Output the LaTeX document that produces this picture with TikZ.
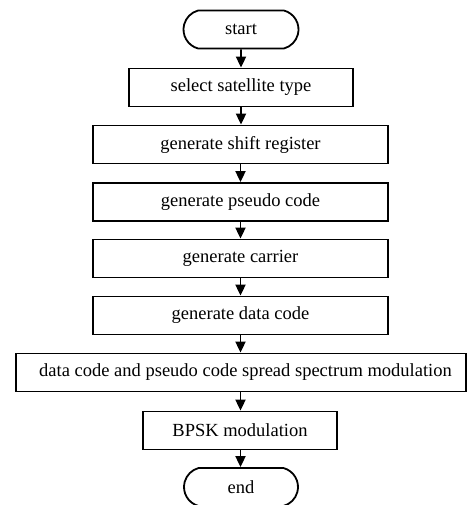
\documentclass[tikz,border=0pt]{standalone}
\usepackage{fontspec}
\setmainfont{Liberation Serif}
\usetikzlibrary{arrows.meta,shapes.misc}
\begin{document}
\begin{tikzpicture}[x=1pt,y=-1pt,
  every node/.style={font=\fontsize{18.5}{22}\selectfont, inner sep=0pt, line width=1.8pt},
  procbox/.style={draw, rectangle, minimum height=38pt},
  termbox/.style={draw, rounded rectangle, rounded rectangle arc length=150, minimum height=38pt, minimum width=115pt},
  flow/.style={line width=1.8pt, -{Triangle[length=11pt,width=10pt]}}
]
\useasboundingbox (0,0) rectangle (472,505);
\node[termbox] (start) at (241,29.5) {start};
\node[procbox, minimum width=224pt] (sel) at (241,87.5) {select satellite type};
\node[procbox, minimum width=295pt] (shift) at (240.5,144.5) {generate shift register};
\node[procbox, minimum width=295pt] (pseudo) at (240.5,202) {generate pseudo code};
\node[procbox, minimum width=295pt] (carrier) at (240.5,258.5) {generate carrier};
\node[procbox, minimum width=295pt] (data) at (240.5,315.5) {generate data code};
\node[procbox, minimum width=450pt] (spread) at (241,372.5) {\hspace*{9pt}data code and pseudo code spread spectrum modulation};
\node[procbox, minimum width=194pt] (bpsk) at (240,430.5) {BPSK modulation};
\node[termbox, minimum width=114pt] (end) at (241,487) {end};
\draw[flow] (start) -- (sel);
\draw[flow] (sel) -- (sel |- shift.north);
\draw[flow] (shift) -- (pseudo);
\draw[flow] (pseudo) -- (carrier);
\draw[flow] (carrier) -- (data);
\draw[flow] (data) -- (data |- spread.north);
\draw[flow] (spread.south -| data) -- (data |- bpsk.north);
\draw[flow] (bpsk.south -| data) -- (data |- end.north);
\end{tikzpicture}
\end{document}
